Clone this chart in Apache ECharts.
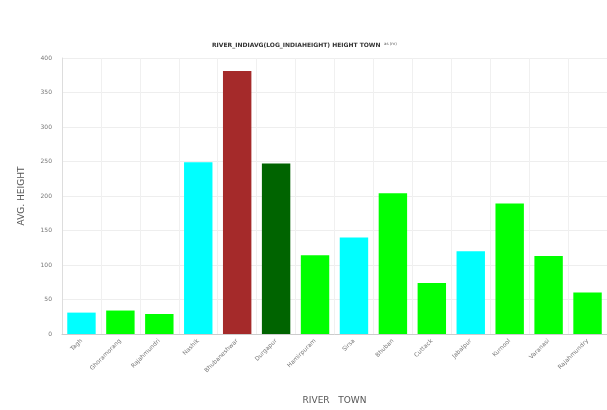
<!DOCTYPE html>
<html>
<head>
<meta charset="utf-8">
<script src="https://cdn.jsdelivr.net/npm/echarts@6/dist/echarts.min.js"></script>
<style>
  html, body { margin: 0; padding: 0; background: #fff; }
  #chart { width: 607px; height: 410px; }
</style>
</head>
<body>
<div id="chart"></div>
<script>
// Towns along the rivers and their average height (m)
const towns = ['Tagh', 'Ghoramorang', 'Rajahmundri', 'Nashik', 'Bhubaneshwar', 'Durgapur', 'Hamirpuram',
  'Sirsa', 'Bhuban', 'Cuttack', 'Jabalpur', 'Kurnool', 'Varanasi', 'Rajahmundry'];
const avgHeight = [31, 34, 29, 249, 381, 247, 114, 140, 204, 74, 120, 189, 113, 60];
const barColors = ['#00ffff', '#00ff00', '#00ff00', '#00ffff', '#a52a2a', '#006400', '#00ff00',
  '#00ffff', '#00ff00', '#00ff00', '#00ffff', '#00ff00', '#00ff00', '#00ff00'];
const yTicks = [0, 50, 100, 150, 200, 250, 300, 350, 400];

const chart = echarts.init(document.getElementById('chart'));
chart.setOption({
  animation: false,
  backgroundColor: '#ffffff',
  title: {
    text: 'RIVER_INDIAVG(LOG_INDIAHEIGHT) HEIGHT TOWN',
    left: 207,
    top: 37,
    textStyle: { fontSize: 6, fontWeight: 'bold', color: '#333', fontFamily: 'DejaVu Sans' }
  },
  graphic: [{
    type: 'text',
    left: 384,
    top: 42,
    style: { text: 'as (m)', fontSize: 4, fill: '#555', fontFamily: 'DejaVu Sans' }
  }],
  grid: { left: 62, right: -8, top: 58, bottom: 66, containLabel: false },
  xAxis: {
    type: 'category',
    data: towns,
    name: 'RIVER   TOWN',
    nameLocation: 'middle',
    nameGap: 62,
    nameTextStyle: { fontSize: 9, color: '#555', fontFamily: 'DejaVu Sans' },
    axisLine: { lineStyle: { color: '#ccc' } },
    axisTick: { show: false },
    axisLabel: { rotate: 45, fontSize: 6, color: '#777', interval: 0, margin: 6, fontFamily: 'DejaVu Sans' },
    splitLine: { show: true, lineStyle: { color: '#f0f0f0' } }
  },
  yAxis: {
    type: 'value',
    min: yTicks[0],
    max: yTicks[yTicks.length - 1],
    interval: 50,
    name: 'AVG. HEIGHT',
    nameLocation: 'middle',
    nameGap: 36,
    nameTextStyle: { fontSize: 9, color: '#555', fontFamily: 'DejaVu Sans' },
    axisLine: { show: true, lineStyle: { color: '#ddd' } },
    axisTick: { show: false },
    axisLabel: { fontSize: 6, color: '#777', margin: 10, fontFamily: 'DejaVu Sans' },
    splitLine: { show: true, lineStyle: { color: '#eeeeee' } }
  },
  series: [{
    type: 'bar',
    data: avgHeight.map((v, i) => ({ value: v, itemStyle: { color: barColors[i] } })),
    barCategoryGap: '27%'
  }]
});
</script>
</body>
</html>
